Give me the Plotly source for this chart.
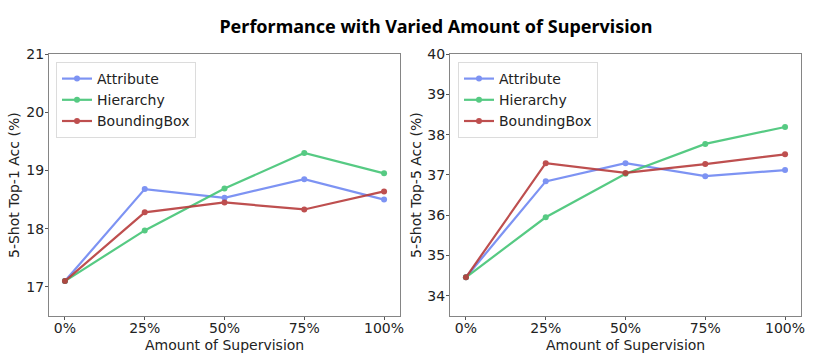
import plotly.graph_objects as go
from plotly.subplots import make_subplots

# amount of supervision (x categories)
supervision = ["0%", "25%", "50%", "75%", "100%"]

# 5-shot top-1 accuracy (%)
top1_attribute = [17.10, 18.68, 18.53, 18.85, 18.50]
top1_hierarchy = [17.10, 17.97, 18.69, 19.30, 18.95]
top1_bbox = [17.10, 18.28, 18.45, 18.33, 18.64]

# 5-shot top-5 accuracy (%)
top5_attribute = [34.46, 36.84, 37.29, 36.97, 37.12]
top5_hierarchy = [34.46, 35.95, 37.03, 37.77, 38.19]
top5_bbox = [34.46, 37.29, 37.05, 37.27, 37.51]

series_names = ["Attribute", "Hierarchy", "BoundingBox"]
colors = ["#7088f2", "#44c576", "#b73c3c"]

W, H = 831, 354

fig = make_subplots(rows=1, cols=2, horizontal_spacing=0.06)

x_idx = list(range(len(supervision)))
panels = [
    (1, [top1_attribute, top1_hierarchy, top1_bbox], "legend"),
    (2, [top5_attribute, top5_hierarchy, top5_bbox], "legend2"),
]
for col, series, leg in panels:
    for name, vals, c in zip(series_names, series, colors):
        fig.add_trace(go.Scatter(
            x=x_idx, y=vals, name=name, mode="lines+markers",
            line=dict(color=c, width=2.2),
            marker=dict(color=c, size=6),
            opacity=0.9,
            legend=leg,
        ), row=1, col=col)

tick_font = dict(family="DejaVu Sans", size=14, color="#222222")
common_x = dict(
    tickmode="array", tickvals=x_idx, ticktext=supervision,
    range=[-0.2, 4.2], showgrid=False, zeroline=False, automargin=False,
    showline=True, mirror=True, linecolor="#858585", linewidth=1.3,
    ticks="outside", ticklen=3, tickcolor="#555555", tickfont=tick_font,
    ticklabelstandoff=-4,
)
common_y = dict(
    showgrid=False, zeroline=False, automargin=False,
    showline=True, mirror=True, linecolor="#858585", linewidth=1.3,
    ticks="outside", ticklen=3, tickcolor="#555555", tickfont=tick_font,
    ticklabelstandoff=-2, dtick=1,
)

y_dom = [1 - 316 / H, 1 - 54 / H]
fig.update_xaxes(**common_x, domain=[49 / W, 400 / W], row=1, col=1)
fig.update_xaxes(**common_x, domain=[450 / W, 801 / W], row=1, col=2)
fig.update_yaxes(**common_y, range=[16.5, 21], domain=y_dom, row=1, col=1)
fig.update_yaxes(**common_y, range=[33.5, 40], domain=y_dom, row=1, col=2)

# axis titles as annotations so they sit where the reference has them
axis_titles = [
    ("Amount of Supervision", (49 + 400) / 2 / W, 1 - 345 / H, 0),
    ("Amount of Supervision", (450 + 801) / 2 / W, 1 - 345 / H, 0),
    ("5-Shot Top-1 Acc (%)", 14 / W, 1 - 185 / H, -90),
    ("5-Shot Top-5 Acc (%)", 416 / W, 1 - 185 / H, -90),
]
for text, ax_x, ax_y, ang in axis_titles:
    fig.add_annotation(text=text, x=ax_x, y=ax_y, xref="paper", yref="paper",
                       xanchor="center", yanchor="middle", textangle=ang,
                       showarrow=False, font=tick_font)

legend_style = dict(
    font=dict(family="DejaVu Sans", size=14, color="#222222"),
    bgcolor="rgba(255,255,255,0.9)", bordercolor="#dcdcdc", borderwidth=1,
    xanchor="left", yanchor="top", tracegroupgap=0, itemwidth=30,
)
fig.update_layout(
    width=W, height=H,
    margin=dict(l=0, r=0, t=0, b=0, autoexpand=False),
    plot_bgcolor="white", paper_bgcolor="white",
    title=dict(text="<b>Performance with Varied Amount of Supervision</b>",
               font=dict(family="Noto Sans", size=18, color="#000000"),
               x=436 / W, xanchor="center", y=1 - 27 / H, yanchor="middle"),
    legend=dict(**legend_style, x=56 / W, y=1 - 62 / H),
    legend2=dict(**legend_style, x=458 / W, y=1 - 62 / H),
)

fig.write_html("out.html", config={"displayModeBar": False},
               post_script="document.body.style.margin='0';")
